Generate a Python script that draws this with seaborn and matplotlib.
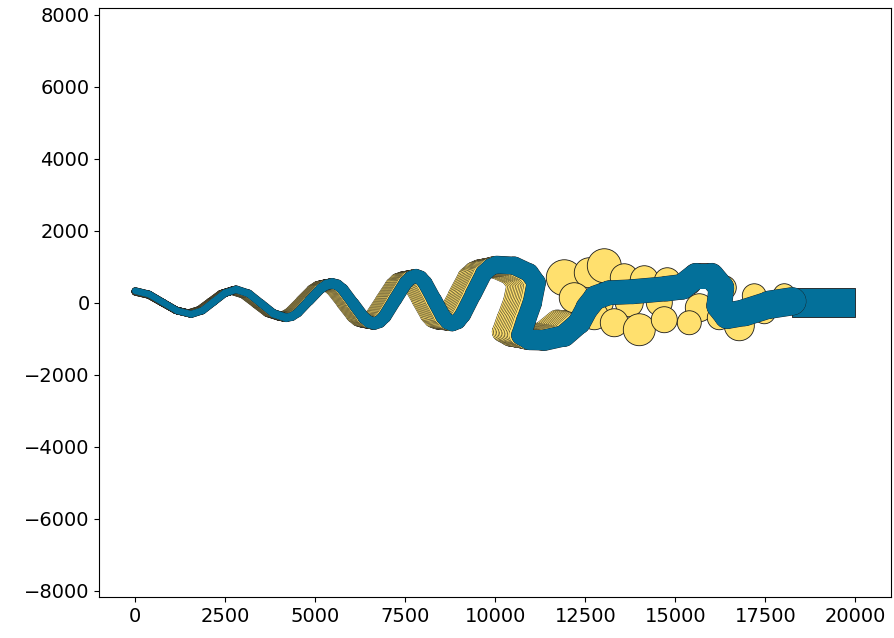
import numpy as np
import matplotlib
matplotlib.use("Agg")
import matplotlib.pyplot as plt
from matplotlib.collections import LineCollection
import seaborn as sns

# centre line of the blue tube (data units)
tube_x = [0, 389, 778, 1167, 1556, 1868, 2181, 2493, 2806, 3153, 3500, 3847, 4194,
          4354, 4514, 4833, 5153, 5312, 5472, 5618, 5764, 6056, 6347, 6493, 6639,
          6784, 6929, 7218, 7508, 7652, 7797, 7923, 8049, 8302, 8554, 8680, 8806,
          8959, 9098, 9389, 9681, 9875, 10028, 10528, 10944, 11139,
          11028, 10861, 10722, 10950, 11361, 11917, 12333, 12556, 12778, 13167,
          13806, 14750, 15194, 15583, 16000, 16278, 16222, 16444, 16917, 17611, 18250]
tube_y = [330, 235, 5, -224, -319, -218, 25, 268, 369, 254, -24, -302, -417,
          -381, -277, 60, 396, 500, 536, 494, 373, -20, -412, -533, -575,
          -525, -382, 84, 549, 692, 742, 692, 549, 84, -382, -525, -575,
          -513, -336, 240, 816, 993, 1055, 1028, 833, 556,
          0, -472, -900, -1030, -1040, -917, -556, -139, 139, 278,
          306, 389, 444, 750, 750, 417, -83, -361, -278, -56, 40]
# tube thickness along the centre line (data units)
tube_w = [180, 180, 180, 180, 180, 195, 195, 195, 195, 210, 210, 222, 222,
          229, 236, 250, 264, 271, 278, 285, 292, 306, 320, 327, 333,
          340, 347, 361, 361, 368, 375, 382, 389, 403, 417, 417, 417,
          424, 431, 444, 458, 465, 472, 490, 500, 510,
          520, 530, 540, 550, 560, 590, 610, 630, 650, 667,
          667, 681, 694, 694, 694, 694, 694, 708, 722, 750, 778]

# straight end piece
tail_x = [18250, 20000]
tail_top = [417, 417]
tail_bottom = [-389, -389]

# earlier (yellow) frames of the tube: lag along x and amplitude factor
frame_lag = [0.050, 0.046, 0.042, 0.038, 0.034, 0.030, 0.026, 0.022, 0.018,
             0.014, 0.010, 0.006]
frame_amp = [0.90, 0.91, 0.915, 0.92, 0.93, 0.94, 0.945, 0.95, 0.96,
             0.97, 0.98, 0.99]
trail_end = 53

# yellow blobs on the right
blob_x = [11917, 12611, 13028, 13583, 14139, 14778, 15389, 16361, 17194, 18028,
          12194, 12889, 13722, 14556, 15667, 17611,
          12750, 13306, 14000, 14694, 15389, 16778, 17472, 16222]
blob_y = [694, 833, 1028, 694, 639, 611, 556, 417, 194, 222,
          139, 0, 0, 0, -139, -28,
          -361, -556, -750, -472, -556, -639, -278, -417]
blob_r = [500, 417, 472, 389, 389, 361, 333, 333, 333, 306,
          417, 389, 389, 361, 389, 333,
          389, 389, 444, 361, 333, 417, 306, 333]

BLUE = "#03709a"
YELLOW = "#ffe06e"
EDGE = "#1a1a1a"

plt.rcParams["font.size"] = 14

fig, ax = plt.subplots(figsize=(8.94, 6.38), dpi=100)
fig.subplots_adjust(left=0.111, right=0.997, bottom=0.064, top=0.987)
ax.set_xlim(-1000, 21000)
ax.set_ylim(-8180, 8180)
ax.set_xticks(np.arange(0, 20001, 2500))
ax.set_yticks(np.arange(-8000, 8001, 2000))

# points per data unit
unit = ax.transData.transform([(1, 0)])[0][0] - ax.transData.transform([(0, 0)])[0][0]
pt = unit * 72 / fig.dpi


def tube(x, y, w, color, z, edge_lw=0.6):
    pts = np.column_stack([x, y])
    segs = np.stack([pts[:-1], pts[1:]], axis=1)
    w = np.asarray(w, dtype=float)
    widths = (w[:-1] + w[1:]) / 2 * pt
    ax.add_collection(LineCollection(segs, linewidths=widths + edge_lw, colors=EDGE,
                                     capstyle="round", joinstyle="round", zorder=z))
    ax.add_collection(LineCollection(segs, linewidths=widths, colors=color,
                                     capstyle="round", joinstyle="round", zorder=z))


tx = np.array(tube_x[:trail_end], dtype=float)
ty = np.array(tube_y[:trail_end], dtype=float)
for lag, amp in zip(frame_lag, frame_amp):
    tube(tx * (1 - lag), ty * amp, tube_w[:trail_end], YELLOW, 2, 0.5)

sns.scatterplot(x=blob_x, y=blob_y, s=(2 * np.array(blob_r) * pt) ** 2, color=YELLOW,
                edgecolor=EDGE, linewidth=0.6, legend=False, ax=ax, zorder=3)

ax.fill_between(tail_x, tail_bottom, tail_top, facecolor=BLUE, edgecolor=EDGE,
                linewidth=0.6, zorder=4)
tube(tube_x, tube_y, tube_w, BLUE, 5, 0.5)

fig.savefig("out.png", dpi=100)
